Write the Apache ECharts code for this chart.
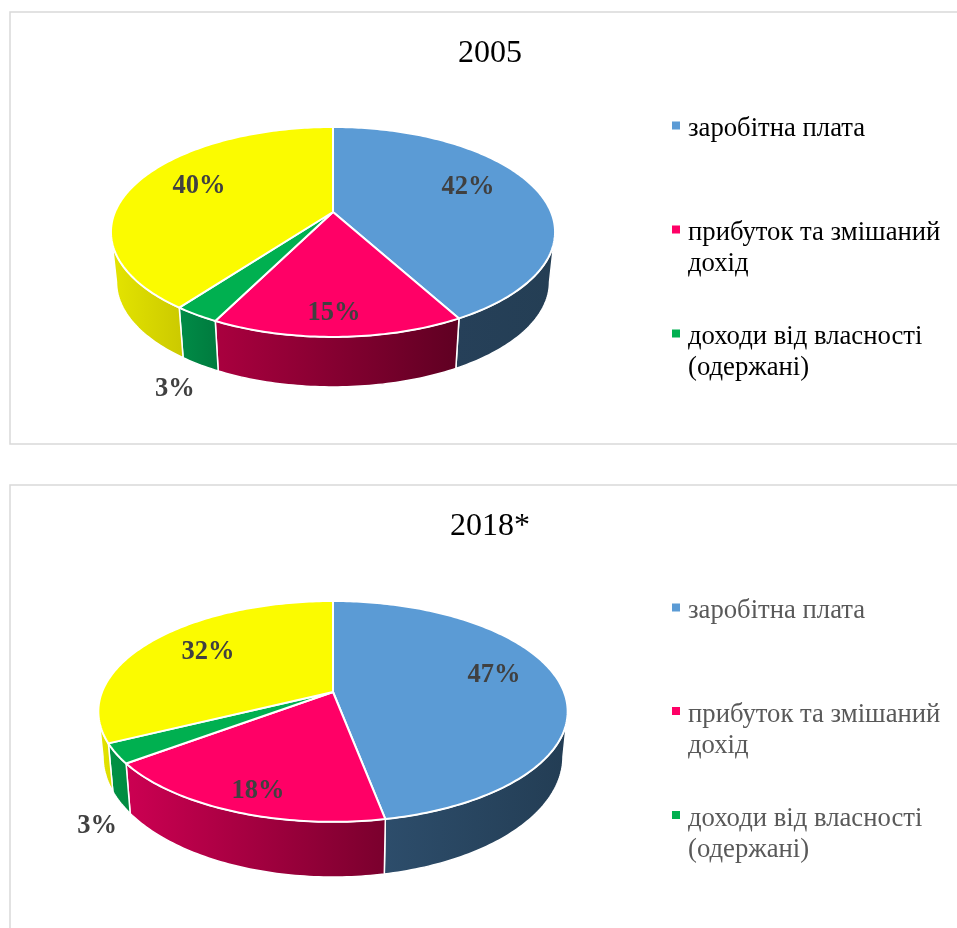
<!DOCTYPE html>
<html>
<head>
<meta charset="utf-8">
<style>
  html, body { margin: 0; padding: 0; background: #fff; }
  #main { width: 957px; height: 928px; }
</style>
<script src="https://cdn.jsdelivr.net/npm/echarts@6/dist/echarts.min.js"></script>
</head>
<body>
<div id="main"></div>
<script>
// дані
const years = ["2005", "2018*"];
const categories = ["заробітна плата", "прибуток та змішаний\nдохід", "доходи від власності\n(одержані)", "інші доходи"];
const values2005 = [42, 15.4, 2.8, 39.8];
const values2018 = [47, 17.8, 2.9, 32.3];

const topColors = ["#5b9bd5", "#ff0066", "#00b050", "#fbfb00"];
const FONT = '"Liberation Serif", "Times New Roman", serif';
// квадратик 8x8 у верхній частині значка висотою 15, щоб він стояв трохи вище тексту
const LEGEND_ICON = "path://M0,0H8V8H0Z M0,14.99H0.01V15H0Z";

// перспектива кожного пирога
const pies = [
  {
    values: values2005, apex: [333, 212], c: 218, s: 101.2, k: 0.19,
    xf: 0.975, yf: 1, dy: 50,
    walls: [["#264059", "#243e54"], ["#aa003f", "#5f0022"], ["#008c47", "#007a3e"], ["#e5e500", "#cbc900"]],
    labels: [[0.71, -8.9], [0.825, 0.8], [1.41, -8.9], [0.711, 5.8]],
    titleTop: 33, legendIcons: [125.5, 229.5, 333.5], legendColor: "#000"
  },
  {
    values: values2018, apex: [333, 692], c: 231, s: 107, k: 0.176,
    xf: 0.98, yf: 1.09, dy: 43.5,
    walls: [["#2d4d6b", "#233d54"], ["#cc0052", "#7a002d"], ["#009245", "#008a40"], ["#e5e500", "#dddd00"]],
    labels: [[0.742, -8.9], [0.83, -1.5], [1.316, -18.9], [0.718, 4.1]],
    titleTop: 506, legendIcons: [607.5, 711, 815], legendColor: "#595959"
  }
];

// кут за годинниковою стрілкою від 12 години -> точка на верхній грані
function topPoint(p, deg, r) {
  const a = deg * Math.PI / 180;
  const u = r * Math.sin(a), v = r * Math.cos(a);
  const w = 1 + p.k * v;
  return [p.c * u / w, -p.s * v / w];
}
function project(p, deg, r) {
  const t = topPoint(p, deg, r);
  return [p.apex[0] + t[0], p.apex[1] + t[1]];
}
function projectBottom(p, deg) {
  const t = topPoint(p, deg, 1);
  return [p.apex[0] + t[0] * p.xf, p.apex[1] + t[1] * p.yf + p.dy];
}
function arc(fn, from, to) {
  const pts = [];
  const n = Math.max(2, Math.ceil(Math.abs(to - from)));
  for (let i = 0; i <= n; i++) pts.push(fn(from + (to - from) * i / n));
  return pts;
}

function sliceRenderer(p, idx) {
  return function (params, api) {
    const total = p.values.reduce((a, b) => a + b, 0);
    const before = p.values.slice(0, idx).reduce((a, b) => a + b, 0);
    const value = api.value(0);
    const from = before / total * 360;
    const to = (before + value) / total * 360;
    const children = [];

    // бокова стінка, від дотичної до дотичної (найширша точка еліпса)
    const tangent = Math.acos(-p.k) * 180 / Math.PI;
    const wFrom = Math.max(from, tangent), wTo = Math.min(to, 360 - tangent);
    if (wTo > wFrom) {
      const wallPts = arc(d => project(p, d, 1), wFrom, wTo)
        .concat(arc(d => projectBottom(p, d), wTo, wFrom));
      children.push({
        type: "polygon",
        z2: 1,
        shape: { points: wallPts },
        style: {
          fill: new echarts.graphic.LinearGradient(0, 0, 1, 0, [
            { offset: 0, color: p.walls[idx][0] },
            { offset: 1, color: p.walls[idx][1] }
          ]),
          stroke: "#fff",
          lineWidth: 1.5
        }
      });
    }

    // верхня грань
    children.push({
      type: "polygon",
      z2: 10,
      shape: { points: [project(p, 0, 0)].concat(arc(d => project(p, d, 1), from, to)) },
      style: { fill: topColors[idx], stroke: "#fff", lineWidth: 2, lineJoin: "round" }
    });

    // підпис
    const place = p.labels[idx];
    const at = project(p, (from + to) / 2 + place[1], place[0]);
    children.push({
      type: "text",
      z2: 20,
      x: at[0],
      y: at[1] + 2,
      style: {
        text: Math.round(value) + "%",
        fill: "#404040",
        font: 'bold 26.5px ' + FONT,
        align: "center",
        verticalAlign: "middle"
      }
    });
    return { type: "group", children: children };
  };
}

const series = [];
const legends = [];
const titles = [];
pies.forEach((p, pieIdx) => {
  titles.push({
    text: years[pieIdx],
    left: 485,
    top: p.titleTop,
    textAlign: "center",
    textStyle: { fontFamily: FONT, fontSize: 32, fontWeight: "normal", color: "#000" }
  });
  p.values.forEach((v, idx) => {
    series.push({
      type: "custom",
      name: categories[idx],
      coordinateSystem: "none",
      silent: true,
      itemStyle: { color: topColors[idx] },
      renderItem: sliceRenderer(p, idx),
      data: [[v]]
    });
  });
  p.legendIcons.forEach((iconY, idx) => {
    const wrapped = categories[idx].indexOf("\n") >= 0;
    const lineH = 31;
    legends.push({
      data: [{ name: categories[idx], icon: LEGEND_ICON }],
      left: 672,
      top: iconY + 3.5 - (wrapped ? 3 * lineH : lineH) / 2,
      padding: 0,
      itemWidth: 8,
      itemHeight: 15,
      itemGap: 0,
      selectedMode: false,
      // порожній перший рядок, щоб маркер стояв навпроти першого рядка тексту
      formatter: name => (name.indexOf("\n") >= 0 ? "\n" + name : name),
      textStyle: { fontFamily: FONT, fontSize: 26.7, lineHeight: lineH, color: p.legendColor, padding: [0, 0, 0, 3] }
    });
  });
});

const chart = echarts.init(document.getElementById("main"), null, { renderer: "canvas" });
chart.setOption({
  backgroundColor: "#fff",
  animation: false,
  title: titles,
  legend: legends,
  graphic: [
    { type: "rect", silent: true, shape: { x: 10, y: 12, width: 1000, height: 432 }, style: { fill: "none", stroke: "#d9d9d9", lineWidth: 1.5 } },
    { type: "rect", silent: true, shape: { x: 10, y: 485, width: 1000, height: 500 }, style: { fill: "none", stroke: "#d9d9d9", lineWidth: 1.5 } }
  ],
  series: series
});
</script>
</body>
</html>
